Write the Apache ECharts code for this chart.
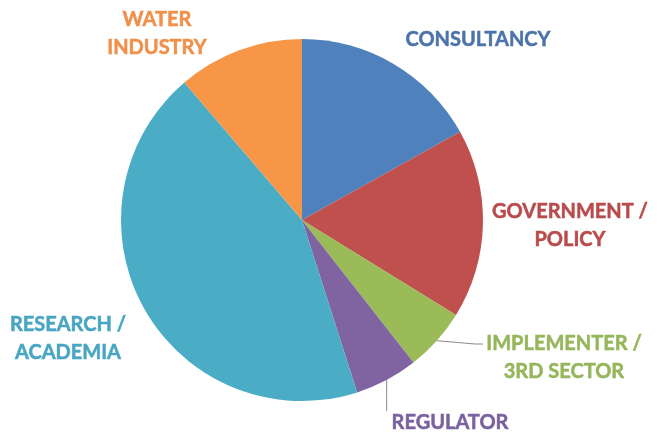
<!DOCTYPE html>
<html>
<head>
<meta charset="utf-8">
<script src="https://cdn.jsdelivr.net/npm/echarts@6/dist/echarts.min.js"></script>
<style>
  html, body { margin: 0; padding: 0; background: #ffffff; }
  #chart { width: 662px; height: 434px; }
</style>
</head>
<body>
<div id="chart"></div>
<script>
// Respondent sectors (counts), clockwise from 12 o'clock
const categories = [
  'CONSULTANCY',
  'GOVERNMENT /\nPOLICY',
  'IMPLEMENTER /\n3RD SECTOR',
  'REGULATOR',
  'RESEARCH /\nACADEMIA',
  'WATER\nINDUSTRY'
];
const counts = [12, 12, 4, 4, 31, 8];

// Office-style theme colours for slices and their labels
const sliceColors = ['#4F81BD', '#C0504D', '#9BBB59', '#8064A2', '#4BACC6', '#F79646'];
const labelColors = ['#4C74AB', '#B94B4C', '#96B65B', '#7A62A0', '#48A6C2', '#F0904A'];
// Leader lines only for the two thin slices at the lower right
const showLeader = [false, false, true, true, false, false];
// Label centres in pixels
const labelSpots = [
  [478, 40], [570, 226], [564, 358], [450, 423], [68, 339], [157, 34]
];

const chart = echarts.init(document.getElementById('chart'), null, { renderer: 'canvas' });

chart.setOption({
  animation: false,
  series: [{
    type: 'pie',
    center: [302, 220],
    radius: 181,
    startAngle: 90,
    clockwise: true,
    avoidLabelOverlap: false,
    data: categories.map((name, i) => ({
      name: name,
      value: counts[i],
      itemStyle: { color: sliceColors[i] },
      label: { color: labelColors[i], textBorderColor: labelColors[i] },
      labelLine: { show: showLeader[i] }
    })),
    itemStyle: { borderWidth: 0 },
    label: {
      show: true,
      position: 'outside',
      formatter: '{b}',
      fontFamily: 'Lato',
      fontWeight: 'bold',
      fontSize: 20,
      lineHeight: 28,
      align: 'center',
      textBorderWidth: 0.5
    },
    labelLine: {
      length: 12,
      length2: 20,
      smooth: false,
      lineStyle: { color: '#8a8a8a', width: 1 }
    },
    labelLayout: function (params) {
      const i = params.dataIndex;
      const p = labelSpots[i];
      const out = { x: p[0], y: p[1], align: 'center', verticalAlign: 'middle' };
      const rect = params.labelRect;
      const top = p[1] - rect.height / 2;
      const left = p[0] - rect.width / 2;
      if (params.labelLinePoints) {
        const s = params.labelLinePoints[0];
        if (i === 3) {
          // the regulator leader drops straight down from the slice edge
          const bottom = top + 2;
          out.labelLinePoints = [[s[0], s[1]], [s[0], (s[1] + bottom) / 2], [s[0], bottom]];
        } else if (i === 2) {
          // the implementer leader meets the first text line from the left
          const endY = top + 14;
          const endX = left - 3;
          out.labelLinePoints = [[s[0], s[1]], [endX - 8, endY], [endX, endY]];
        }
      }
      return out;
    },
    emphasis: { disabled: true }
  }]
});
</script>
</body>
</html>
